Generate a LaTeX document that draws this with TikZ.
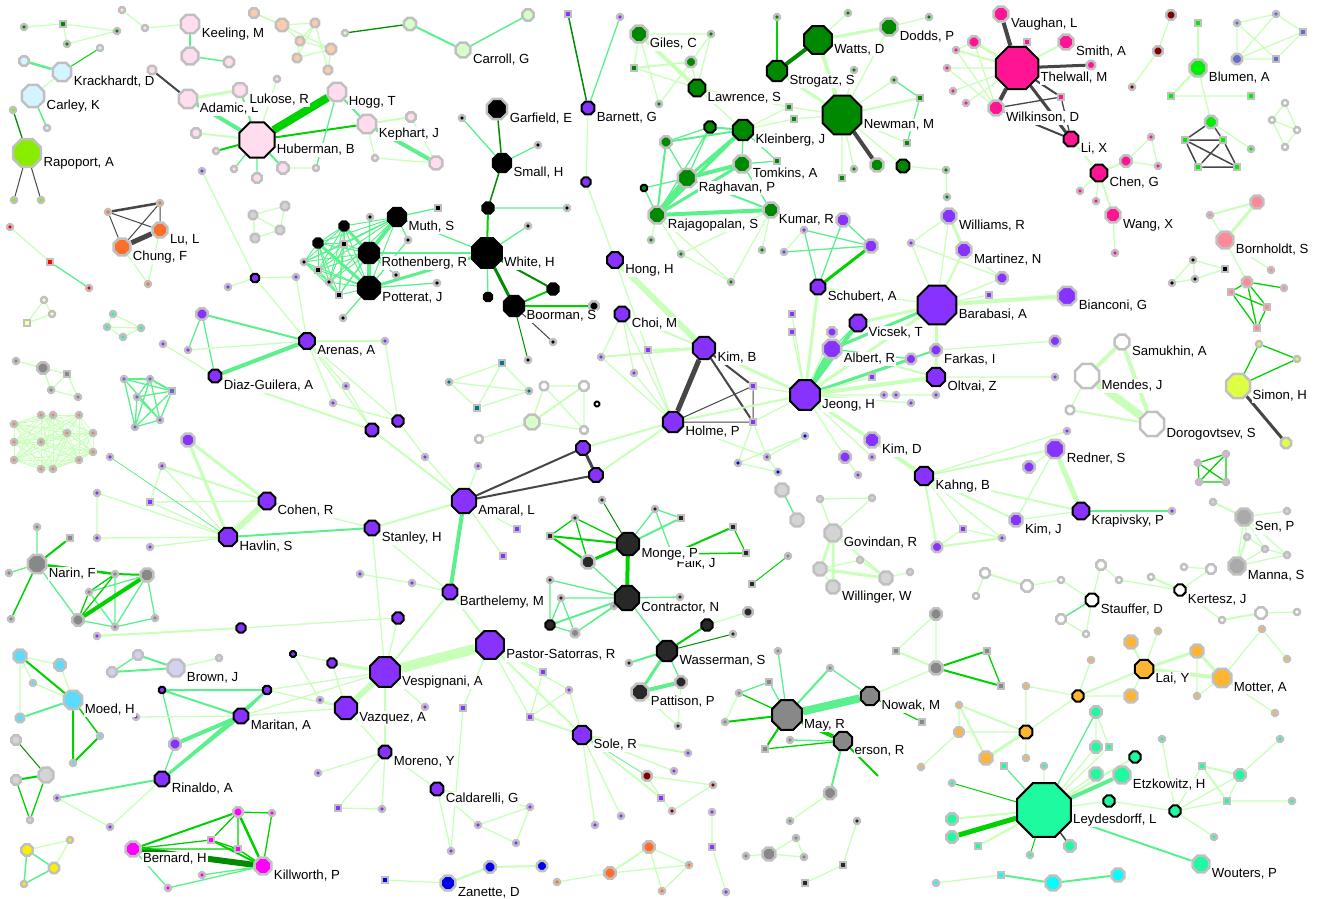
\documentclass[tikz,border=0pt]{standalone}
\usepackage{fontspec}
\setmainfont{Liberation Sans}
\usetikzlibrary{shapes.geometric,backgrounds}

\newdimen\pxu \pxu=0.02cm

\definecolor{pur}{RGB}{135,50,255}
\definecolor{grn}{RGB}{0,136,0}
\definecolor{vgrn}{RGB}{0,238,0}
\definecolor{dpink}{RGB}{255,20,147}
\definecolor{lpink}{RGB}{255,220,238}
\definecolor{ppink}{RGB}{240,160,230}
\definecolor{dgr}{RGB}{40,40,40}
\definecolor{mgry}{RGB}{136,136,136}
\definecolor{sgry}{RGB}{170,170,170}
\definecolor{lgry}{RGB}{212,212,212}
\definecolor{aqua}{RGB}{30,250,160}
\definecolor{orng}{RGB}{255,180,50}
\definecolor{ored}{RGB}{255,110,40}
\definecolor{lcyan}{RGB}{210,245,255}
\definecolor{cyan2}{RGB}{90,220,255}
\definecolor{sky}{RGB}{0,255,255}
\definecolor{lime}{RGB}{136,238,0}
\definecolor{mag}{RGB}{255,0,255}
\definecolor{ylg}{RGB}{221,255,68}
\definecolor{yel}{RGB}{255,238,0}
\definecolor{lyel}{RGB}{255,255,170}
\definecolor{salm}{RGB}{255,136,153}
\definecolor{blu}{RGB}{0,0,230}
\definecolor{dred}{RGB}{128,0,0}
\definecolor{lav}{RGB}{210,210,240}
\definecolor{peach}{RGB}{255,204,170}
\definecolor{pale}{RGB}{215,255,200}
\definecolor{teal2}{RGB}{0,120,140}
\definecolor{slate}{RGB}{100,110,200}
\definecolor{ecol}{RGB}{225,140,100}
\definecolor{ring}{RGB}{192,192,192}
\definecolor{lgr}{RGB}{200,255,185}
\definecolor{mgr}{RGB}{90,240,140}
\definecolor{bgr}{RGB}{0,210,0}
\definecolor{dkg}{RGB}{0,140,0}
\definecolor{egr}{RGB}{70,70,70}

\tikzset{
  oct/.style={regular polygon, regular polygon sides=8, inner sep=0pt},
  hub/.style 2 args={oct, draw=black, line width=2\pxu, fill=#1, minimum size=#2\pxu},
  nd/.style 2 args={oct, draw=ring, line width=2.5\pxu, fill=#1, minimum size=#2\pxu},
  dot/.style={oct, draw=ring, line width=2.5\pxu, fill=#1, minimum size=6\pxu},
  sqr/.style={rectangle, draw=ring, line width=2.5\pxu, fill=#1, minimum size=6\pxu, inner sep=0pt},
  lbl/.style={font=\fontsize{7.5}{8}\selectfont, inner sep=0.6pt, fill=white},
  lb/.style={lbl, yshift=-10\pxu},
  lite/.style={draw=lgr, line width=#1\pxu}, lite/.default=1.3,
  medg/.style={draw=mgr, line width=#1\pxu}, medg/.default=1.3,
  brtg/.style={draw=bgr, line width=#1\pxu}, brtg/.default=1.3,
  drkg/.style={draw=dkg, line width=#1\pxu}, drkg/.default=1.3,
  dgry/.style={draw=egr, line width=#1\pxu}, dgry/.default=1.3,
}

\begin{document}
\begin{tikzpicture}[x=0.02cm, y=-0.02cm]
\useasboundingbox (0,0) rectangle (1319,899);

%top left corner
\node[dot=grn] (tl1) at (24,27) {};
\node[sqr=grn] (tl2) at (63,24) {};
\node[dot=grn] (tl3) at (117,31) {};
\node[dot=grn] (tl4) at (67,44) {};
\begin{pgfonlayer}{background}
\draw[lite] (tl1) -- (tl2) (tl2) -- (tl3) (tl2) -- (tl4) (tl4) -- (tl3);
\end{pgfonlayer}

%keeling
\node[dot=lpink] (ke1) at (122,10) {};
\node[dot=lpink] (ke2) at (145,28) {};
\node[nd={lpink}{20}, label={[lb]0:{Keeling, M}}] (keeling) at (190,24) {};
\node[nd={lpink}{18}] (ke3) at (190,56) {};
\node[nd={lpink}{11}] (ke4) at (229,62) {};
\begin{pgfonlayer}{background}
\draw[lite] (ke1) -- (ke2) (ke2) -- (keeling);
\draw[medg=2] (keeling) -- (ke3);
\draw[medg=1.5] (ke3) -- (ke4);
\end{pgfonlayer}

%peach group
\node[nd={peach}{10}] (pe1) at (254,13) {};
\node[nd={peach}{13}] (pe2) at (282,25) {};
\node[nd={peach}{9}] (pe3) at (315,23) {};
\node[nd={peach}{9}] (pe4) at (300,41) {};
\node[nd={peach}{9}] (pe5) at (297,58) {};
\node[nd={peach}{11}] (pe6) at (331,49) {};
\node[nd={peach}{9}] (pe7) at (328,70) {};
\begin{pgfonlayer}{background}
\draw[lite=2] (pe1) -- (pe2);
\draw[lite] (pe2) -- (pe3) (pe2) -- (pe6) (pe3) -- (pe4) (pe3) -- (pe5) (pe3) -- (pe7)
  (pe4) -- (pe6) (pe5) -- (pe6) (pe6) -- (pe7) (pe4) -- (pe5) (pe2) -- (pe4);
\end{pgfonlayer}

%carroll
\node[dot=pale] (ca1) at (345,33) {};
\node[nd={pale}{13}] (ca2) at (410,24) {};
\node[nd={pale}{16}, label={[lb]0:{Carroll, G}}] (carroll) at (463,50) {};
\node[nd={pale}{12}] (ca3) at (528,15) {};
\begin{pgfonlayer}{background}
\draw[drkg] (ca1) -- (ca2);
\draw[medg=2] (ca2) -- (carroll);
\draw[medg=1.5] (carroll) -- (ca3);
\end{pgfonlayer}

%krackhardt, carley
\node[nd={lcyan}{10}] (kr1) at (24,61) {};
\node[nd={lcyan}{20}, label={[lb]0:{Krackhardt, D}}] (krack) at (62,72) {};
\node[dot=lcyan] (kr2) at (100,48) {};
\node[nd={lcyan}{24}, label={[lb]0:{Carley, K}}] (carley) at (33,96) {};
\node[dot=lcyan] (kr3) at (47,128) {};
\begin{pgfonlayer}{background}
\draw[medg=2.5] (kr1) -- (krack);
\draw[brtg=1] (krack) -- (kr2);
\draw[lite] (krack) -- (carley);
\draw[medg=1.5] (carley) -- (kr3);
\end{pgfonlayer}

%rapoport
\node[dot=lime] (ra1) at (13,110) {};
\node[nd={lime}{30}, label={[lb]0:{Rapoport, A}}] (rapoport) at (27,153) {};
\node[dot=lime] (ra2) at (14,200) {};
\node[dot=lime] (ra3) at (41,200) {};
\begin{pgfonlayer}{background}
\draw[drkg] (ra1) -- (rapoport);
\draw[dgry=1] (rapoport) -- (ra2) (rapoport) -- (ra3);
\end{pgfonlayer}

%huberman group
\node[nd={lpink}{9}] (hu0) at (152,70) {};
\node[nd={lpink}{20}, label={[lb]0:{Adamic, L}}] (adamic) at (188,99) {};
\node[nd={lpink}{15}, label={[lb]0:{Lukose, R}}] (lukose) at (240,90) {};
\node[dot=lpink] (hu1) at (277,79) {};
\node[nd={lpink}{20}, label={[lb]0:{Hogg, T}}] (hogg) at (337,92) {};
\node[nd={lpink}{20}, label={[lb]0:{Kephart, J}}] (kephart) at (367,124) {};
\node[nd={lpink}{10}] (hu2) at (411,117) {};
\node[nd={lpink}{14}] (hu3) at (436,163) {};
\node[dot=lpink] (hu4) at (375,158) {};
\node[dot=lpink] (hu5) at (316,168) {};
\node[nd={lpink}{12}] (hu6) at (283,168) {};
\node[nd={lpink}{10}] (hu7) at (257,178) {};
\node[dot=lpink] (hu8) at (234,169) {};
\node[dot=lpink] (hu9) at (216,151) {};
\node[nd={lpink}{10}] (hu10) at (196,133) {};
\node[hub={lpink}{38}, label={[lb]0:{Huberman, B}}] (huberman) at (257,140) {};
\begin{pgfonlayer}{background}
\draw[dgry=2] (hu0) -- (adamic);
\draw[lite=3] (adamic) -- (lukose);
\draw[medg=4] (adamic) -- (huberman);
\draw[medg=2] (lukose) -- (huberman) (hogg) -- (kephart) (huberman) -- (hu6);
\draw[lite] (hu1) -- (huberman) (kephart) -- (hu4) (hu2) -- (hu3) (hu4) -- (hu3) (hu6) -- (hu5);
\draw[brtg=8] (hogg) -- (huberman);
\draw[brtg=2] (kephart) -- (huberman) (huberman) -- (hu9);
\draw[medg] (hogg) -- (hu5) (huberman) -- (hu8) (huberman) -- (hu7);
\draw[lite=2] (kephart) -- (hu2) (huberman) -- (hu10);
\draw[medg=4] (kephart) -- (hu3);
\end{pgfonlayer}

%chung, lu
\node[dot=ored] (ch1) at (108,212) {};
\node[dot=ored] (ch2) at (160,203) {};
\node[nd={ored}{16}, label={[lb]0:{Lu, L}}] (lu) at (160,230) {};
\node[nd={ored}{18}, label={[lb]0:{Chung, F}}] (chung) at (122,247) {};
\node[dot=ored] (ch3) at (148,284) {};
\begin{pgfonlayer}{background}
\draw[dgry=2.5] (ch1) -- (ch2);
\draw[dgry=1] (ch1) -- (lu) (ch1) -- (chung) (ch2) -- (chung) (ch2) -- (lu);
\draw[dgry=5] (chung) -- (lu);
\draw[lite] (chung) -- (ch3) (lu) -- (ch3);
\end{pgfonlayer}

%red ones
\node[dot=red] (rd1) at (10,227) {};
\node[sqr=red] (rd2) at (50,262) {};
\node[dot=red] (rd3) at (89,288) {};
\begin{pgfonlayer}{background}
\draw[lite] (rd1) -- (rd2);
\draw[medg] (rd2) -- (rd3);
\end{pgfonlayer}

%small grey square
\node[nd={lgry}{9}] (lg1) at (253,215) {};
\node[nd={lgry}{9}] (lg2) at (285,206) {};
\node[nd={lgry}{9}] (lg3) at (280,230) {};
\node[nd={lgry}{9}] (lg4) at (255,238) {};
\begin{pgfonlayer}{background}
\draw[lite] (lg1) -- (lg2) (lg1) -- (lg3) (lg2) -- (lg3) (lg1) -- (lg4) (lg4) -- (lg3);
\end{pgfonlayer}

%purple strays
\node[dot=pur] (pu1) at (202,171) {};
\node[hub={pur}{9}] (pu2) at (255,278) {};
\node[dot=pur] (pu3) at (228,287) {};
\node[dot=pur] (pu4) at (296,277) {};
\begin{pgfonlayer}{background}
\draw[lite] (pu1) -- (pu2) (pu2) -- (pu3) (pu2) -- (pu4);
\end{pgfonlayer}

%white, small, garfield
\node[nd={black}{22}, label={[lb]0:{Garfield, E}}] (garfield) at (497,109) {};
\node[dot=black] (sm1) at (462,118) {};
\node[hub={black}{20}, label={[lb]0:{Small, H}}] (small) at (502,163) {};
\node[dot=black] (sm2) at (538,145) {};
\node[hub={black}{12}] (sm3) at (488,208) {};
\node[dot=black] (sm4) at (567,208) {};
\node[dot=black] (sm5) at (528,226) {};
\node[hub={black}{12}] (sm6) at (553,289) {};
\node[hub={black}{9}] (sm7) at (488,297) {};
\node[hub={black}{32}, label={[lb]0:{White, H}}] (whiteh) at (487,253) {};
\node[nd={black}{10}] (bo1) at (594,306) {};
\node[dot=black] (bo2) at (553,342) {};
\node[dot=black] (bo3) at (528,360) {};
\node[hub={black}{22}, label={[lb]0:{Boorman, S}}] (boorman) at (514,306) {};
\begin{pgfonlayer}{background}
\draw[drkg=1.5] (garfield) -- (small) (small) -- (sm3);
\draw[medg] (sm1) -- (small) (small) -- (sm2) (sm3) -- (sm4) (whiteh) -- (sm5) (whiteh) -- (sm7);
\draw[brtg=2] (sm3) -- (whiteh) (sm6) -- (boorman) (boorman) -- (bo1);
\draw[drkg=2] (whiteh) -- (sm6);
\draw[drkg=3] (whiteh) -- (boorman);
\draw[dgry=1] (boorman) -- (bo2);
\draw[drkg=1] (boorman) -- (bo3);
\end{pgfonlayer}

%muth, rothenberg, potterat
\node[hub={black}{10}] (mu1) at (344,226) {};
\node[hub={black}{10}] (mu2) at (318,243) {};
\node[sqr=black] (mu3) at (344,244) {};
\node[dot=black] (mu4) at (304,262) {};
\node[sqr=black] (mu5) at (318,270) {};
\node[dot=black] (mu6) at (329,282) {};
\node[sqr=black] (mu7) at (339,295) {};
\node[dot=black] (mu8) at (370,217) {};
\node[dot=black] (mu9) at (408,240) {};
\node[dot=black] (mu10) at (396,275) {};
\node[sqr=black] (mu11) at (438,208) {};
\node[dot=black] (mu12) at (437,283) {};
\node[dot=black] (mu13) at (343,318) {};
\node[hub={black}{20}, label={[lb]0:{Muth, S}}] (muth) at (397,217) {};
\node[hub={black}{22}, label={[lb]0:{Rothenberg, R}}] (roth) at (369,253) {};
\node[hub={black}{24}, label={[lb]0:{Potterat, J}}] (pott) at (369,288) {};
\begin{pgfonlayer}{background}
\foreach \a [count=\i] in {muth,roth,pott,mu1,mu2,mu3,mu4,mu5,mu6,mu7}
  \foreach \b [count=\j] in {muth,roth,pott,mu1,mu2,mu3,mu4,mu5,mu6,mu7}
    {\ifnum\j>\i \draw[medg=1] (\a) -- (\b); \fi}
\draw[medg=4] (muth) -- (roth) (roth) -- (pott);
\draw[medg=3] (mu2) -- (pott) (mu1) -- (roth);
\draw[medg] (whiteh) -- (muth) (mu8) -- (roth) (mu9) -- (pott) (mu10) -- (roth) (mu11) -- (muth)
  (mu12) -- (pott) (mu13) -- (pott) (muth) -- (mu9);
\draw[medg=2] (whiteh) -- (roth);
\draw[medg=3] (whiteh) -- (pott);
\end{pgfonlayer}

%barnett, hong
\node[sqr=pur] (ba1) at (568,14) {};
\node[dot=pur] (ba2) at (620,17) {};
\node[hub={pur}{14}, label={[lb]0:{Barnett, G}}] (barnett) at (588,108) {};
\node[hub={pur}{10}] (ba3) at (586,182) {};
\node[hub={pur}{17}, label={[lb]0:{Hong, H}}] (hong) at (615,260) {};
\begin{pgfonlayer}{background}
\draw[drkg=1.5] (ba1) -- (barnett);
\draw[medg] (ba2) -- (barnett);
\draw[lite] (barnett) -- (ba3) (ba3) -- (hong);
\end{pgfonlayer}

%giles, lawrence
\node[nd={grn}{18}, label={[lb]0:{Giles, C}}] (giles) at (639,34) {};
\node[dot=grn] (gi1) at (711,34) {};
\node[nd={grn}{11}] (gi2) at (691,62) {};
\node[sqr=grn] (gi3) at (634,68) {};
\node[dot=grn] (gi4) at (659,104) {};
\node[hub={grn}{18}, label={[lb]0:{Lawrence, S}}] (lawrence) at (697,88) {};
\begin{pgfonlayer}{background}
\draw[lite] (giles) -- (gi1) (giles) -- (gi3) (giles) -- (gi4) (gi3) -- (lawrence) (gi1) -- (lawrence)
  (gi2) -- (lawrence) (gi4) -- (gi2) (gi1) -- (gi2);
\draw[lite=2] (gi3) -- (gi2);
\draw[lite=4] (giles) -- (lawrence);
\end{pgfonlayer}

%kleinberg group
\node[hub={grn}{12}] (kl1) at (710,127) {};
\node[nd={grn}{12}] (kl2) at (666,142) {};
\node[sqr=grn] (kl3) at (777,161) {};
\node[hub={grn}{7}] (kl4) at (644,188) {};
\node[nd={grn}{16}] (kl5) at (771,210) {};
\node[dot=grn] (kl6) at (651,240) {};
\node[dot=grn] (kl7) at (681,254) {};
\node[dot=grn] (kl8) at (762,250) {};
\node[dot=grn] (kl9) at (731,282) {};
\node[hub={grn}{22}, label={[lb]0:{Kleinberg, J}}] (kleinberg) at (743,130) {};
\node[nd={grn}{18}, label={[lb]0:{Tomkins, A}}] (tomkins) at (742,164) {};
\node[nd={grn}{20}, label={[lb]0:{Raghavan, P}}] (raghavan) at (687,178) {};
\node[nd={grn}{18}, label={[lb]0:{Rajagopalan, S}}] (rajagopalan) at (657,215) {};
\begin{pgfonlayer}{background}
\draw[medg=2] (kl1) -- (kleinberg) (kl2) -- (kleinberg) (raghavan) -- (kl5) (kl2) -- (rajagopalan);
\draw[medg] (kl2) -- (kl1) (kleinberg) -- (tomkins) (kleinberg) -- (kl3) (kl2) -- (raghavan)
  (kl4) -- (raghavan) (kl4) -- (rajagopalan) (tomkins) -- (kl3) (kl5) -- (tomkins)
  (kl1) -- (raghavan) (kl1) -- (rajagopalan);
\draw[medg=3] (kleinberg) -- (raghavan) (kleinberg) -- (rajagopalan) (tomkins) -- (rajagopalan);
\draw[medg=4] (tomkins) -- (raghavan) (rajagopalan) -- (kl5);
\draw[medg=6] (raghavan) -- (rajagopalan);
\draw[lite] (rajagopalan) -- (kl6) (rajagopalan) -- (kl7) (rajagopalan) -- (kl9) (kl5) -- (kl9)
  (kl5) -- (kl8) (kl7) -- (kl5) (kl7) -- (kl9) (lawrence) -- (kleinberg);
\end{pgfonlayer}

%newman group
\node[dot=grn] (nw1) at (777,17) {};
\node[dot=grn] (nw2) at (929,17) {};
\node[dot=grn] (nw3) at (848,13) {};
\node[dot=grn] (nw4) at (854,70) {};
\node[sqr=grn] (nw5) at (789,107) {};
\node[sqr=grn] (nw6) at (794,119) {};
\node[nd={grn}{14}] (nw7) at (877,165) {};
\node[hub={grn}{14}] (nw8) at (903,166) {};
\node[dot=grn] (nw9) at (894,80) {};
\node[sqr=grn] (nw10) at (920,98) {};
\node[sqr=grn] (nw11) at (907,143) {};
\node[dot=grn] (nw12) at (946,170) {};
\node[dot=grn] (nw13) at (947,197) {};
\node[sqr=grn] (nw14) at (842,178) {};
\node[dot=grn] (nw15) at (854,169) {};
\node[hub={grn}{30}, label={[lb]0:{Watts, D}}] (watts) at (818,40) {};
\node[hub={grn}{22}, label={[lb]0:{Strogatz, S}}] (strogatz) at (777,71) {};
\node[nd={grn}{18}, label={[lb]0:{Dodds, P}}] (dodds) at (889,27) {};
\node[hub={grn}{42}, label={[lb]0:{Newman, M}}] (newman) at (842,115) {};
\begin{pgfonlayer}{background}
\draw[drkg=4] (watts) -- (strogatz);
\draw[brtg=2.5] (strogatz) -- (nw1);
\draw[lite=4] (watts) -- (newman);
\draw[lite=3] (watts) -- (dodds) (strogatz) -- (newman);
\draw[dgry=4] (newman) -- (nw7);
\draw[lite] (newman) -- (dodds) (newman) -- (nw4) (newman) -- (nw11) (newman) -- (nw5) (newman) -- (nw6)
  (newman) -- (nw8) (newman) -- (nw14) (newman) -- (nw15) (nw8) -- (nw12) (nw12) -- (nw13)
  (dodds) -- (nw2) (watts) -- (nw3) (newman) -- (nw9) (kleinberg) -- (nw5) (kleinberg) -- (nw6)
  (lawrence) -- (nw5);
\draw[lite=2] (newman) -- (nw10);
\draw[medg] (nw9) -- (nw10) (nw10) -- (nw11);
\end{pgfonlayer}

%thelwall group
\node[sqr=dpink] (th1) at (1027,42) {};
\node[dot=dpink] (th2) at (956,50) {};
\node[dot=dpink] (th3) at (947,68) {};
\node[dot=dpink] (th4) at (953,91) {};
\node[dot=dpink] (th5) at (966,103) {};
\node[nd={dpink}{12}] (th6) at (974,42) {};
\node[nd={dpink}{9}] (th7) at (1091,65) {};
\node[sqr=dpink] (th8) at (1061,97) {};
\node[nd={dpink}{12}] (th9) at (1126,161) {};
\node[dot=dpink] (th10) at (1151,137) {};
\node[dot=dpink] (th11) at (1158,166) {};
\node[dot=dpink] (th12) at (1080,191) {};
\node[dot=dpink] (th13) at (1096,201) {};
\node[dot=dpink] (th14) at (1115,253) {};
\node[nd={dpink}{16}, label={[lb]0:{Vaughan, L}}] (vaughan) at (1001,14) {};
\node[nd={dpink}{16}, label={[lb]0:{Smith, A}}] (smith) at (1066,42) {};
\node[hub={dpink}{46}, label={[lb]0:{Thelwall, M}}] (thelwall) at (1017,68) {};
\node[nd={dpink}{16}, label={[lb]0:{Wilkinson, D}}] (wilkinson) at (996,108) {};
\node[hub={dpink}{16}, label={[lb]0:{Li, X}}] (lix) at (1071,139) {};
\node[hub={dpink}{18}, label={[lb]0:{Chen, G}}] (chen) at (1099,173) {};
\node[nd={dpink}{16}, label={[lb]0:{Wang, X}}] (wang) at (1113,215) {};
\begin{pgfonlayer}{background}
\draw[dgry=4] (vaughan) -- (thelwall) (thelwall) -- (wilkinson);
\draw[dgry=3] (thelwall) -- (th7) (thelwall) -- (lix);
\draw[dgry=2] (thelwall) -- (th8) (wilkinson) -- (lix);
\draw[dgry=1.3] (wilkinson) -- (th8) (th8) -- (lix);
\draw[lite=2] (smith) -- (thelwall) (th2) -- (thelwall) (thelwall) -- (th1) (lix) -- (chen)
  (chen) -- (th9) (chen) -- (wang);
\draw[lite=3] (th6) -- (thelwall);
\draw[lite] (th3) -- (thelwall) (th4) -- (thelwall) (th5) -- (thelwall) (th6) -- (wilkinson)
  (th3) -- (wilkinson) (th2) -- (wilkinson) (th6) -- (th2) (th9) -- (th10) (th10) -- (th11)
  (th9) -- (th11) (chen) -- (th12) (chen) -- (th13) (wang) -- (th14);
\end{pgfonlayer}

%dark red
\node[nd={dred}{10}] (dr1) at (1171,15) {};
\node[nd={dred}{10}] (dr2) at (1158,51) {};
\node[dot=dred] (dr3) at (1132,87) {};
\begin{pgfonlayer}{background}
\draw[lite] (dr1) -- (dr2) (dr2) -- (dr3);
\end{pgfonlayer}

%blumen
\node[sqr=vgrn] (bl1) at (1198,23) {};
\node[sqr=vgrn] (bl2) at (1171,96) {};
\node[sqr=vgrn] (bl3) at (1251,96) {};
\node[nd={vgrn}{13}] (bl4) at (1211,122) {};
\node[dot=vgrn] (bl5) at (1251,149) {};
\node[sqr=vgrn] (bl6) at (1185,140) {};
\node[sqr=vgrn] (bl7) at (1223,140) {};
\node[sqr=vgrn] (bl8) at (1198,167) {};
\node[sqr=vgrn] (bl9) at (1237,167) {};
\node[nd={vgrn}{18}, label={[lb]0:{Blumen, A}}] (blumen) at (1198,68) {};
\begin{pgfonlayer}{background}
\draw[lite=2] (bl1) -- (blumen) (blumen) -- (bl2);
\draw[lite] (bl2) -- (bl3) (blumen) -- (bl4) (bl4) -- (bl5);
\draw[dgry=1.5] (bl4) -- (bl6) (bl4) -- (bl7) (bl6) -- (bl7) (bl6) -- (bl8) (bl6) -- (bl9)
  (bl7) -- (bl8) (bl7) -- (bl9) (bl8) -- (bl9);
\end{pgfonlayer}

%slate group, white tiny group
\node[dot=slate] (sl1) at (1237,23) {};
\node[dot=slate] (sl2) at (1276,14) {};
\node[sqr=slate] (sl3) at (1303,32) {};
\node[nd={slate}{11}] (sl4) at (1237,59) {};
\node[sqr=slate] (sl5) at (1276,59) {};
\node[dot=white] (wt1) at (1285,103) {};
\node[dot=white] (wt2) at (1272,120) {};
\node[dot=white] (wt3) at (1297,130) {};
\node[dot=white] (wt4) at (1285,147) {};
\begin{pgfonlayer}{background}
\draw[lite] (sl1) -- (sl2) (sl2) -- (sl3) (sl1) -- (sl4) (sl4) -- (sl5) (sl5) -- (sl3) (sl1) -- (sl5)
  (sl2) -- (sl4) (sl4) -- (sl3);
\draw[lite] (wt1) -- (wt2) (wt1) -- (wt3) (wt2) -- (wt4) (wt3) -- (wt4) (wt2) -- (wt3);
\end{pgfonlayer}

%bornholdt
\node[nd={salm}{14}] (bh1) at (1257,202) {};
\node[dot=salm] (bh2) at (1210,215) {};
\node[dot=salm] (bh3) at (1271,270) {};
\node[dot=black] (bh4) at (1193,260) {};
\node[sqr=black] (bh5) at (1225,269) {};
\node[dot=black] (bh6) at (1172,283) {};
\node[dot=black] (bh7) at (1195,279) {};
\node[nd={salm}{11}] (bh8) at (1247,282) {};
\node[dot=salm] (bh9) at (1284,288) {};
\node[sqr=salm] (bh10) at (1231,292) {};
\node[sqr=salm] (bh11) at (1267,307) {};
\node[sqr=salm] (bh12) at (1257,328) {};
\node[nd={salm}{18}, label={[lb]0:{Bornholdt, S}}] (bornholdt) at (1225,240) {};
\begin{pgfonlayer}{background}
\draw[lite=3] (bh1) -- (bornholdt);
\draw[lite=2] (bh2) -- (bh1);
\draw[lite] (bh2) -- (bornholdt) (bornholdt) -- (bh8) (bornholdt) -- (bh3) (bh4) -- (bh5)
  (bh4) -- (bh6) (bh4) -- (bh7) (bh6) -- (bh7) (bh5) -- (bh7);
\draw[brtg] (bh8) -- (bh9) (bh8) -- (bh10) (bh8) -- (bh11) (bh10) -- (bh11) (bh10) -- (bh12)
  (bh11) -- (bh12) (bh8) -- (bh12);
\end{pgfonlayer}

%williams, martinez, barabasi
\node[dot=pur] (wi1) at (911,243) {};
\node[nd={pur}{12}] (wi2) at (1002,278) {};
\node[sqr=pur] (wi3) at (989,295) {};
\node[nd={pur}{16}, label={[lb]0:{Williams, R}}] (williams) at (949,216) {};
\node[nd={pur}{16}, label={[lb]0:{Martinez, N}}] (martinez) at (964,250) {};
\node[nd={pur}{20}, label={[lb]0:{Bianconi, G}}] (bianconi) at (1067,296) {};
\node[hub={pur}{42}, label={[lb]0:{Barabasi, A}}] (barabasi) at (937,305) {};
\begin{pgfonlayer}{background}
\draw[lite] (williams) -- (wi1) (williams) -- (barabasi) (wi1) -- (wi2) (wi1) -- (barabasi)
  (martinez) -- (wi2) (barabasi) -- (wi3) (wi2) -- (barabasi);
\draw[lite=3] (williams) -- (martinez);
\draw[lite=2] (martinez) -- (barabasi);
\draw[lite=4] (barabasi) -- (bianconi);
\end{pgfonlayer}

%kumar, schubert
\node[nd={pur}{14}, label={[lbl]180:{Kumar, R}}] (kumar) at (843,220) {};
\node[nd={pur}{14}] (ku1) at (871,246) {};
\node[dot=pur] (ku2) at (804,230) {};
\node[dot=pur] (ku3) at (784,252) {};
\node[hub={pur}{16}, label={[lb]0:{Schubert, A}}] (schubert) at (818,287) {};
\begin{pgfonlayer}{background}
\draw[brtg=3] (ku1) -- (schubert);
\draw[medg] (ku2) -- (ku1) (ku3) -- (ku1) (ku2) -- (schubert) (kumar) -- (schubert) (kumar) -- (ku1);
\draw[lite] (ku2) -- (ku3);
\end{pgfonlayer}

%jeong group
\node[sqr=pur] (je2) at (792,314) {};
\node[sqr=pur] (je3) at (792,332) {};
\node[nd={pur}{10}] (je4) at (832,332) {};
\node[sqr=pur] (je5) at (872,377) {};
\node[dot=pur] (je6) at (884,395) {};
\node[dot=pur] (je7) at (896,395) {};
\node[dot=pur] (je8) at (911,403) {};
\node[dot=pur] (je9) at (936,395) {};
\node[nd={pur}{11}] (je10) at (1055,341) {};
\node[dot=pur] (je11) at (1055,377) {};
\node[nd={pur}{11}] (je1) at (911,359) {};
\node[hub={pur}{18}, label={[lb]0:{Vicsek, T}}] (vicsek) at (858,323) {};
\node[nd={pur}{20}, label={[lb]0:{Albert, R}}] (albert) at (832,349) {};
\node[nd={pur}{12}, label={[lb]0:{Farkas, I}}] (farkas) at (936,350) {};
\node[hub={pur}{20}, label={[lb]0:{Oltvai, Z}}] (oltvai) at (936,377) {};
\node[hub={pur}{32}, label={[lb]0:{Jeong, H}}] (jeong) at (805,395) {};
\begin{pgfonlayer}{background}
\draw[lite=3] (jeong) -- (barabasi) (barabasi) -- (vicsek) (barabasi) -- (oltvai) (jeong) -- (schubert);
\draw[medg=6] (jeong) -- (albert);
\draw[medg=4] (jeong) -- (vicsek);
\draw[lite=4] (jeong) -- (oltvai);
\draw[medg=3] (jeong) -- (je1) (barabasi) -- (albert);
\draw[medg=2] (jeong) -- (farkas);
\draw[medg] (vicsek) -- (albert) (albert) -- (je1);
\draw[lite=2] (albert) -- (oltvai);
\draw[lite] (barabasi) -- (farkas) (jeong) -- (je2) (jeong) -- (je3) (jeong) -- (je4) (jeong) -- (je5)
  (jeong) -- (je6) (jeong) -- (je7) (jeong) -- (je8) (jeong) -- (je9) (farkas) -- (je10)
  (oltvai) -- (je11) (schubert) -- (barabasi);
\end{pgfonlayer}

%kim b, holme, choi
\node[sqr=pur] (kh1) at (753,386) {};
\node[sqr=pur] (kh2) at (753,422) {};
\node[dot=pur] (kh3) at (601,357) {};
\node[sqr=pur] (kh4) at (648,350) {};
\node[dot=pur] (kh5) at (634,373) {};
\node[dot=blu] (hb2) at (738,463) {};
\node[dot=pur] (hb3) at (767,457) {};
\node[dot=blu] (hb4) at (778,472) {};
\node[dot=blu] (hb5) at (805,436) {};
\node[hub={pur}{16}, label={[lb]0:{Choi, M}}] (choi) at (622,314) {};
\node[hub={pur}{24}, label={[lb]0:{Kim, B}}] (kimb) at (704,348) {};
\node[hub={pur}{22}, label={[lb]0:{Holme, P}}] (holme) at (673,422) {};
\node[hub={pur}{15}] (am1) at (583,448) {};
\node[hub={pur}{15}] (am2) at (596,475) {};
\begin{pgfonlayer}{background}
\draw[dgry=5] (kimb) -- (holme);
\draw[dgry=2] (kimb) -- (kh1) (kimb) -- (kh2);
\draw[dgry=1] (holme) -- (kh1) (holme) -- (kh2) (kh1) -- (kh2);
\draw[lite=2] (am1) -- (holme) (am2) -- (holme) (choi) -- (kimb) (kh3) -- (kimb) (kh4) -- (kimb)
  (holme) -- (jeong);
\draw[lite=6] (hong) -- (kimb);
\draw[lite=3] (kimb) -- (jeong);
\draw[lite] (choi) -- (kh3) (choi) -- (holme) (choi) -- (kh5) (kh5) -- (holme) (hong) -- (holme)
  (jeong) -- (kh1) (jeong) -- (kh2) (kh2) -- (hb2) (kh2) -- (hb3) (hb3) -- (hb4) (hb2) -- (hb4)
  (hb3) -- (hb5) (hb2) -- (hb5) (holme) -- (hb3) (kh3) -- (holme);
\end{pgfonlayer}

%teal and pale groups in the middle
\node[dot=teal2] (tc1) at (449,382) {};
\node[sqr=teal2] (tc2) at (502,363) {};
\node[dot=teal2] (tc3) at (529,391) {};
\node[sqr=teal2] (tc4) at (477,408) {};
\node[nd={pale}{16}] (lc1) at (532,422) {};
\node[nd={white}{9}] (lc2) at (544,386) {};
\node[nd={white}{10}] (lc3) at (584,386) {};
\node[nd={white}{8}] (lc4) at (584,430) {};
\node[nd={white}{8}] (lc5) at (479,439) {};
\node[hub={white}{5}] (lc6) at (597,404) {};
\begin{pgfonlayer}{background}
\draw[lite] (tc1) -- (tc2) (tc2) -- (tc3) (tc1) -- (tc4) (tc2) -- (tc4) (tc4) -- (tc3) (tc1) -- (tc3);
\draw[lite] (lc1) -- (lc2) (lc1) -- (lc4) (lc1) -- (lc5) (lc2) -- (lc3) (lc3) -- (lc4) (lc2) -- (lc4);
\draw[lite=2] (lc1) -- (lc3);
\end{pgfonlayer}

%amaral, stanley, barthelemy
\node[sqr=pur] (am3) at (517,529) {};
\node[sqr=pur] (am4) at (503,556) {};
\node[dot=pur] (am5) at (478,466) {};
\node[hub={pur}{26}, label={[lb]0:{Amaral, L}}] (amaral) at (464,501) {};
\node[hub={pur}{16}, label={[lb]0:{Stanley, H}}] (stanley) at (372,528) {};
\node[hub={pur}{16}, label={[lb]0:{Barthelemy, M}}] (barthelemy) at (450,592) {};
\node[dot=pur] (st1) at (360,574) {};
\node[dot=pur] (st2) at (412,583) {};
\begin{pgfonlayer}{background}
\draw[dgry=2] (amaral) -- (am1) (amaral) -- (am2);
\draw[dgry=3] (am1) -- (am2);
\draw[medg=4] (amaral) -- (barthelemy);
\draw[lite=2] (amaral) -- (stanley);
\draw[lite] (amaral) -- (am3) (amaral) -- (am4) (amaral) -- (am5) (st1) -- (st2) (stanley) -- (barthelemy)
  (st2) -- (barthelemy);
\end{pgfonlayer}

%arenas, diaz-guilera
\node[nd={pur}{12}] (ar1) at (202,314) {};
\node[dot=pur] (ar2) at (163,344) {};
\node[dot=pur] (ar3) at (188,350) {};
\node[dot=pur] (ar4) at (385,341) {};
\node[dot=pur] (ar5) at (346,386) {};
\node[dot=pur] (ar6) at (333,403) {};
\node[hub={pur}{12}] (ar7) at (398,421) {};
\node[hub={pur}{14}] (ar8) at (372,430) {};
\node[dot=pur] (ar9) at (425,457) {};
\node[hub={pur}{14}, label={[lb]0:{Diaz-Guilera, A}}] (diaz) at (215,376) {};
\node[hub={pur}{17}, label={[lb]0:{Arenas, A}}] (arenas) at (307,341) {};
\begin{pgfonlayer}{background}
\draw[medg=2] (ar1) -- (arenas);
\draw[medg] (ar1) -- (ar3) (ar1) -- (diaz);
\draw[medg=4] (diaz) -- (arenas);
\draw[lite=2] (arenas) -- (ar4) (diaz) -- (ar8) (ar8) -- (amaral);
\draw[lite] (ar3) -- (arenas) (ar2) -- (diaz) (ar4) -- (ar7) (arenas) -- (ar7) (arenas) -- (ar8)
  (ar7) -- (ar9) (arenas) -- (pu2) (arenas) -- (pu4) (arenas) -- (ar6) (ar6) -- (ar7) (ar5) -- (ar8)
  (arenas) -- (ar5) (ar9) -- (amaral);
\end{pgfonlayer}

%havlin, cohen
\node[nd={pur}{14}] (hv1) at (188,440) {};
\node[dot=pur] (hv2) at (162,466) {};
\node[sqr=pur] (hv3) at (150,502) {};
\node[dot=pur] (hv4) at (97,493) {};
\node[dot=pur] (hv5) at (97,538) {};
\node[dot=pur] (hv6) at (110,457) {};
\node[dot=pur] (hv7) at (150,547) {};
\node[hub={pur}{18}, label={[lb]0:{Cohen, R}}] (cohen) at (267,501) {};
\node[hub={pur}{20}, label={[lb]0:{Havlin, S}}] (havlin) at (228,537) {};
\begin{pgfonlayer}{background}
\draw[lite=3] (hv1) -- (havlin) (hv1) -- (cohen);
\draw[lite=2] (hv2) -- (cohen);
\draw[lite] (hv2) -- (havlin) (hv2) -- (hv3) (hv3) -- (cohen) (hv3) -- (havlin) (hv4) -- (havlin)
  (hv4) -- (hv5) (hv5) -- (havlin) (hv7) -- (havlin) (cohen) -- (stanley);
\draw[medg=0.8] (hv6) -- (havlin);
\draw[lite=6] (cohen) -- (havlin);
\draw[medg=2] (havlin) -- (stanley);
\end{pgfonlayer}

%little groups on the left
\node[sqr=lyel] (yl1) at (27,323) {};
\node[dot=lyel] (yl2) at (52,314) {};
\node[dot=lyel] (yl3) at (44,300) {};
\node[dot=aqua] (tt1) at (113,314) {};
\node[dot=aqua] (tt2) at (107,327) {};
\node[dot=aqua] (tt3) at (123,337) {};
\node[dot=aqua] (tt4) at (141,328) {};
\node[dot=mgry] (gy1) at (16,361) {};
\node[nd={mgry}{12}] (gy2) at (43,368) {};
\node[sqr=mgry] (gy3) at (67,374) {};
\node[dot=mgry] (gy4) at (51,390) {};
\node[dot=mgry] (gy5) at (78,397) {};
\node[dot=slate] (sc1) at (124,379) {};
\node[dot=slate] (sc2) at (150,379) {};
\node[sqr=slate] (sc3) at (172,391) {};
\node[dot=slate] (sc4) at (137,397) {};
\node[dot=slate] (sc5) at (160,420) {};
\node[dot=slate] (sc6) at (135,427) {};
\foreach \x/\y [count=\i] in {14/424,41/415,53/415,79/415,93/433,93/452,79/460,53/469,41/469,14/460,14/442,41/442,67/433}
  \node[dot=ecol] (el\i) at (\x,\y) {};
\begin{pgfonlayer}{background}
\draw[lite] (yl1) -- (yl2) (yl1) -- (yl3) (yl2) -- (yl3);
\draw[lite] (tt1) -- (tt2) (tt1) -- (tt4) (tt2) -- (tt4) (tt2) -- (tt3) (tt3) -- (tt4);
\draw[lite] (gy1) -- (gy2) (gy2) -- (gy3) (gy3) -- (gy4) (gy3) -- (gy5) (gy2) -- (gy4) (gy4) -- (gy5);
\draw[medg=2] (sc1) -- (sc2) (sc2) -- (sc3);
\draw[medg] (sc1) -- (sc3) (sc1) -- (sc5) (sc1) -- (sc6) (sc2) -- (sc4) (sc2) -- (sc5) (sc3) -- (sc4)
  (sc3) -- (sc5) (sc3) -- (sc6) (sc4) -- (sc5) (sc4) -- (sc6) (sc5) -- (sc6) (sc2) -- (sc6);
\foreach \i in {1,...,13}
  \foreach \j in {1,...,13}
    {\ifnum\j>\i \draw[lite=0.8] (el\i) -- (el\j); \fi}
\end{pgfonlayer}

%narin
\node[dot=mgry] (na1) at (37,527) {};
\node[sqr=mgry] (na2) at (70,538) {};
\node[dot=mgry] (na3) at (9,573) {};
\node[dot=mgry] (na4) at (115,574) {};
\node[nd={mgry}{14}] (na5) at (147,575) {};
\node[dot=mgry] (na6) at (89,592) {};
\node[nd={mgry}{12}] (na7) at (78,620) {};
\node[dot=mgry] (na8) at (115,627) {};
\node[dot=mgry] (na9) at (155,618) {};
\node[dot=mgry] (na10) at (11,619) {};
\node[dot=pur] (na11) at (97,636) {};
\node[hub={pur}{10}] (pa1) at (241,628) {};
\node[hub={pur}{12}] (pa2) at (398,618) {};
\node[nd={mgry}{20}, label={[lb]0:{Narin, F}}] (narin) at (37,564) {};
\begin{pgfonlayer}{background}
\draw[brtg=2] (na2) -- (narin) (na4) -- (na5);
\draw[medg] (na1) -- (narin) (narin) -- (na3) (narin) -- (na7) (na5) -- (na9) (na5) -- (na8) (na6) -- (na8)
  (na4) -- (na8) (na7) -- (na8) (na9) -- (na8) (na6) -- (na5);
\draw[brtg=2.5] (narin) -- (na4);
\draw[brtg=4] (na5) -- (na7);
\draw[brtg] (na4) -- (na6) (na6) -- (na7) (na4) -- (na7);
\draw[brtg=1.5] (narin) -- (na10);
\draw[lite=2] (na11) -- (pa1);
\draw[lite] (pa1) -- (pa2);
\end{pgfonlayer}

%moed
\node[nd={cyan2}{14}] (mo1) at (20,656) {};
\node[nd={cyan2}{12}] (mo2) at (60,665) {};
\node[dot=cyan2] (mo3) at (33,683) {};
\node[nd={cyan2}{9}] (mo4) at (20,718) {};
\node[dot=cyan2] (mo5) at (100,736) {};
\node[dot=cyan2] (mo6) at (73,763) {};
\node[dot=pur] (mo7) at (136,717) {};
\node[nd={cyan2}{20}, label={[lb]0:{Moed, H}}] (moed) at (73,700) {};
\begin{pgfonlayer}{background}
\draw[brtg=2] (mo1) -- (moed) (moed) -- (mo6) (mo6) -- (mo5);
\draw[lite] (mo1) -- (mo2) (mo1) -- (mo4) (moed) -- (mo2) (mo3) -- (moed) (mo3) -- (mo1);
\draw[medg=2] (moed) -- (mo4);
\draw[brtg=1.5] (moed) -- (mo5);
\end{pgfonlayer}

%grey and yellow corners
\node[nd={lgry}{10}] (gc1) at (16,740) {};
\node[nd={lgry}{10}] (gc2) at (16,780) {};
\node[nd={lgry}{16}] (gc3) at (46,775) {};
\node[dot=lgry] (gc4) at (30,820) {};
\node[nd={yel}{12}] (ye1) at (27,850) {};
\node[nd={yel}{11}] (ye2) at (54,868) {};
\node[dot=yel] (ye3) at (70,840) {};
\node[dot=yel] (ye4) at (24,884) {};
\begin{pgfonlayer}{background}
\draw[drkg=1] (gc1) -- (gc3);
\draw[brtg=2] (gc2) -- (gc3);
\draw[brtg] (gc2) -- (gc4) (gc3) -- (gc4);
\draw[medg=1.5] (ye1) -- (ye2) (ye1) -- (ye4) (ye2) -- (ye4);
\draw[lite] (ye1) -- (ye3) (ye2) -- (ye3);
\end{pgfonlayer}

%brown
\node[nd={lav}{10}] (br1) at (138,655) {};
\node[nd={lav}{10}] (br2) at (112,672) {};
\node[nd={lav}{18}, label={[lb]0:{Brown, J}}] (brown) at (176,668) {};
\node[dot=lav] (br3) at (219,658) {};
\begin{pgfonlayer}{background}
\draw[medg=2] (br1) -- (brown) (br2) -- (brown);
\draw[medg] (br1) -- (br2);
\draw[lite] (brown) -- (br3);
\end{pgfonlayer}

%vespignani group
\node[hub={pur}{6}] (vp1) at (293,654) {};
\node[hub={pur}{10}] (vp2) at (332,663) {};
\node[dot=pur] (vp3) at (320,700) {};
\node[dot=pur] (vp4) at (425,707) {};
\node[dot=pur] (vp5) at (318,773) {};
\node[sqr=pur] (vp6) at (338,808) {};
\node[dot=pur] (vp7) at (382,809) {};
\node[sqr=blu] (vp8) at (385,880) {};
\node[hub={pur}{32}, label={[lb]0:{Vespignani, A}}] (vespignani) at (385,672) {};
\node[hub={pur}{24}, label={[lb]0:{Vazquez, A}}] (vazquez) at (346,708) {};
\node[hub={pur}{14}, label={[lb]0:{Moreno, Y}}] (moreno) at (385,752) {};
\node[hub={pur}{30}, label={[lb]0:{Pastor-Satorras, R}}] (pastor) at (490,645) {};
\begin{pgfonlayer}{background}
\draw[lite=10] (vespignani) -- (pastor);
\draw[lite=6] (vespignani) -- (vazquez);
\draw[lite=3] (vespignani) -- (vp2);
\draw[lite=2] (vespignani) -- (barthelemy) (vespignani) -- (moreno) (pastor) -- (barthelemy);
\draw[lite] (vespignani) -- (pa2) (vp1) -- (vespignani) (vazquez) -- (moreno) (moreno) -- (vp5)
  (moreno) -- (vp6) (vp6) -- (vp7) (moreno) -- (vp7) (vespignani) -- (vp4) (vazquez) -- (vp3)
  (vp1) -- (vp3) (stanley) -- (vespignani) (vazquez) -- (vp2);
\end{pgfonlayer}

%maritan, rinaldo
\node[hub={pur}{7}] (mt1) at (162,690) {};
\node[hub={pur}{9}] (mt2) at (267,690) {};
\node[nd={pur}{12}] (mt3) at (175,744) {};
\node[dot=pur] (mt4) at (57,798) {};
\node[dot=pur] (mt5) at (110,827) {};
\node[hub={pur}{16}, label={[lb]0:{Maritan, A}}] (maritan) at (241,716) {};
\node[hub={pur}{16}, label={[lb]0:{Rinaldo, A}}] (rinaldo) at (162,779) {};
\begin{pgfonlayer}{background}
\draw[medg=2] (mt1) -- (mt2) (mt1) -- (maritan) (mt2) -- (rinaldo) (mt2) -- (maritan) (rinaldo) -- (mt4);
\draw[medg] (mt1) -- (mt3) (mt3) -- (rinaldo);
\draw[medg=4] (maritan) -- (mt3);
\draw[medg=3] (maritan) -- (rinaldo);
\draw[lite] (rinaldo) -- (mt5) (mt4) -- (mt5) (maritan) -- (vespignani) (mt2) -- (vespignani)
  (mt2) -- (vazquez) (maritan) -- (vazquez) (mo7) -- (maritan);
\end{pgfonlayer}

%bernard, killworth
\node[nd={mag}{10}] (bn1) at (238,812) {};
\node[dot=mag] (bn2) at (272,813) {};
\node[sqr=mag] (bn3) at (211,840) {};
\node[sqr=mag] (bn4) at (238,849) {};
\node[dot=mag] (bn5) at (202,875) {};
\node[dot=mag] (bn6) at (168,888) {};
\node[nd={mag}{16}, label={[lb]0:{Bernard, H}}] (bernard) at (133,849) {};
\node[nd={mag}{18}, label={[lb]0:{Killworth, P}}] (killworth) at (263,866) {};
\begin{pgfonlayer}{background}
\draw[drkg=6] (bernard) -- (killworth);
\draw[brtg=2] (bernard) -- (bn1) (bn3) -- (killworth);
\draw[brtg] (bernard) -- (bn3) (bernard) -- (bn4) (bn1) -- (bn4) (bn2) -- (bn1) (bn2) -- (killworth)
  (bn3) -- (bn4) (bn3) -- (bn1);
\draw[brtg=2.5] (bn1) -- (killworth);
\draw[brtg=1.5] (bn4) -- (killworth);
\draw[medg] (bn5) -- (killworth) (bn6) -- (killworth) (bernard) -- (bn6);
\end{pgfonlayer}

%caldarelli, zanette
\node[dot=pur] (cd1) at (530,807) {};
\node[dot=pur] (cd2) at (478,825) {};
\node[dot=pur] (cd3) at (516,843) {};
\node[dot=pur] (cd4) at (451,851) {};
\node[hub={pur}{14}, label={[lb]0:{Caldarelli, G}}] (caldarelli) at (437,789) {};
\node[nd={blu}{12}] (za1) at (490,867) {};
\node[nd={blu}{11}] (za2) at (542,866) {};
\node[nd={blu}{16}, label={[lb]0:{Zanette, D}}] (zanette) at (448,883) {};
\begin{pgfonlayer}{background}
\draw[lite] (moreno) -- (caldarelli) (caldarelli) -- (cd1) (caldarelli) -- (cd2) (cd2) -- (cd1)
  (cd2) -- (cd3) (cd1) -- (cd3) (caldarelli) -- (cd4) (vp8) -- (zanette);
\draw[lite=2.5] (zanette) -- (za1);
\draw[lite=2] (za1) -- (za2);
\end{pgfonlayer}

%pastor-satorras, sole
\node[sqr=pur] (ps1) at (543,672) {};
\node[dot=pur] (ps2) at (569,690) {};
\node[sqr=pur] (ps3) at (530,717) {};
\node[sqr=pur] (ps4) at (463,708) {};
\node[dot=pur] (so1) at (688,753) {};
\node[dot=pur] (so2) at (674,771) {};
\node[nd={dred}{10}] (so3) at (647,776) {};
\node[sqr=pur] (so4) at (661,798) {};
\node[dot=pur] (so5) at (621,816) {};
\node[dot=pur] (so6) at (595,825) {};
\node[dot=dred] (so7) at (713,785) {};
\node[dot=dred] (so8) at (672,811) {};
\node[hub={pur}{20}, label={[lb]0:{Sole, R}}] (sole) at (582,735) {};
\begin{pgfonlayer}{background}
\draw[lite=2] (pastor) -- (sole) (ps3) -- (sole) (sole) -- (so1) (sole) -- (so4);
\draw[lite] (pastor) -- (ps1) (pastor) -- (ps2) (pastor) -- (ps3) (ps1) -- (ps3) (ps2) -- (ps3)
  (ps2) -- (sole) (pastor) -- (ps4) (ps4) -- (cd4) (sole) -- (so2) (sole) -- (so5) (sole) -- (so6)
  (so3) -- (so7) (so4) -- (so8) (so7) -- (so8) (so3) -- (so4);
\draw[medg=0.8] (sole) -- (so3);
\end{pgfonlayer}

%orange and purple at the bottom
\node[nd={ored}{12}] (or1) at (649,847) {};
\node[nd={ored}{12}] (or2) at (610,873) {};
\node[dot=ored] (or3) at (689,865) {};
\node[dot=ored] (or4) at (662,891) {};
\node[dot=ored] (or5) at (557,882) {};
\node[dot=pur] (pp1) at (712,812) {};
\node[sqr=pur] (pp2) at (712,847) {};
\node[dot=pur] (pp3) at (726,892) {};
\begin{pgfonlayer}{background}
\draw[lite=2] (or1) -- (or2);
\draw[lite] (or1) -- (or3) (or1) -- (or4) (or2) -- (or3) (or2) -- (or5) (or3) -- (or4)
  (pp1) -- (pp2) (pp2) -- (pp3);
\end{pgfonlayer}

%monge, contractor
\node[nd={dgr}{14}] (mg1) at (588,562) {};
\node[sqr=dgr] (mg2) at (550,536) {};
\node[dot=dgr] (mg3) at (602,500) {};
\node[dot=dgr] (mg4) at (655,509) {};
\node[sqr=dgr] (mg5) at (681,518) {};
\node[sqr=dgr] (mg6) at (733,527) {};
\node[sqr=dgr] (mg7) at (746,553) {};
\node[dot=dgr] (mg8) at (575,518) {};
\node[hub={dgr}{10}] (ct1) at (550,625) {};
\node[nd={mgry}{9}] (ct2) at (575,633) {};
\node[dot=dgr] (ct3) at (550,580) {};
\node[dot=dgr] (ct4) at (561,598) {};
\node[dot=dgr] (ct5) at (680,597) {};
\node[dot=mgry] (ct6) at (614,606) {};
\node[hub={dgr}{5}, label={[lb]0:{Falk, J}}] (falk) at (672,554) {};
\node[hub={dgr}{24}, label={[lb]0:{Monge, P}}] (monge) at (628,544) {};
\node[hub={dgr}{26}, label={[lb]0:{Contractor, N}}] (contractor) at (627,598) {};
\begin{pgfonlayer}{background}
\draw[brtg=2] (monge) -- (mg2) (mg2) -- (mg1) (mg6) -- (falk);
\draw[brtg=3] (monge) -- (mg1);
\draw[brtg] (mg2) -- (mg8) (mg8) -- (monge) (mg8) -- (mg1) (mg6) -- (mg7);
\draw[brtg=1.5] (mg7) -- (falk);
\draw[drkg=1] (monge) -- (mg3);
\draw[medg=2] (monge) -- (mg5) (contractor) -- (ct1);
\draw[medg] (monge) -- (mg4) (mg4) -- (mg5) (mg4) -- (falk) (mg1) -- (contractor) (ct1) -- (ct2)
  (contractor) -- (ct2) (ct3) -- (contractor) (ct4) -- (contractor) (ct3) -- (ct1) (ct4) -- (ct2)
  (ct1) -- (ct4) (contractor) -- (ct5) (ct2) -- (ct6);
\draw[brtg=4] (monge) -- (contractor);
\end{pgfonlayer}

%wasserman, pattison
\node[hub={dgr}{12}] (ws1) at (707,625) {};
\node[dot=dgr] (ws2) at (733,634) {};
\node[nd={dgr}{10}] (ws3) at (748,612) {};
\node[dot=dgr] (ws4) at (629,663) {};
\node[nd={dgr}{12}] (ws5) at (681,682) {};
\node[dot=dgr] (ws6) at (678,726) {};
\node[hub={dgr}{22}, label={[lb]0:{Wasserman, S}}] (wasserman) at (667,651) {};
\node[nd={dgr}{18}, label={[lb]0:{Pattison, P}}] (pattison) at (640,692) {};
\begin{pgfonlayer}{background}
\draw[medg] (contractor) -- (wasserman) (wasserman) -- (ws5);
\draw[brtg=2] (wasserman) -- (ws1);
\draw[drkg=1] (wasserman) -- (ws2);
\draw[lite] (ws1) -- (ws3) (pattison) -- (ws6) (ws5) -- (ws6);
\draw[medg=2] (ws4) -- (wasserman);
\draw[medg=3] (wasserman) -- (pattison);
\draw[medg=4] (pattison) -- (ws5);
\end{pgfonlayer}

%govindan, willinger
\node[nd={lgry}{14}] (gv1) at (782,490) {};
\node[nd={lgry}{14}] (gv2) at (797,520) {};
\node[dot=lgry] (gv3) at (820,499) {};
\node[dot=lgry] (gv4) at (872,498) {};
\node[nd={lgry}{14}] (gv5) at (820,569) {};
\node[dot=lgry] (gv6) at (860,560) {};
\node[nd={lgry}{14}] (gv7) at (886,578) {};
\node[dot=lgry] (gv8) at (910,572) {};
\node[dot=mgry] (gz1) at (788,556) {};
\node[sqr=dgr] (gz2) at (752,584) {};
\node[nd={lgry}{18}, label={[lb]0:{Govindan, R}}] (govindan) at (833,533) {};
\node[nd={lgry}{14}, label={[lb]0:{Willinger, W}}] (willinger) at (833,587) {};
\begin{pgfonlayer}{background}
\draw[medg=1.5] (gv1) -- (gv2);
\draw[lite] (gv3) -- (gv4) (gv3) -- (govindan) (gv6) -- (gv5) (gv6) -- (gv7) (gv5) -- (willinger)
  (gv7) -- (gv8) (govindan) -- (gv4);
\draw[lite=3] (govindan) -- (gv5) (govindan) -- (willinger) (gv5) -- (gv7);
\draw[lite=2] (govindan) -- (gv7);
\draw[brtg=1] (gz1) -- (gz2);
\end{pgfonlayer}

%kahng, redner
\node[dot=pur] (kg1) at (1067,431) {};
\node[nd={pur}{12}] (kg2) at (1029,467) {};
\node[dot=pur] (kg3) at (1172,511) {};
\node[sqr=pur] (kg4) at (963,529) {};
\node[dot=pur] (kg5) at (1002,538) {};
\node[nd={pur}{11}] (kg6) at (937,547) {};
\node[nd={pur}{12}] (kd1) at (845,457) {};
\node[dot=pur] (kd2) at (872,457) {};
\node[dot=pur] (kd3) at (858,475) {};
\node[nd={pur}{16}, label={[lb]0:{Kim, D}}] (kimd) at (872,440) {};
\node[hub={pur}{20}, label={[lb]0:{Kahng, B}}] (kahng) at (924,476) {};
\node[nd={pur}{20}, label={[lb]0:{Redner, S}}] (redner) at (1055,449) {};
\node[nd={pur}{14}, label={[lb]0:{Kim, J}}] (kimj) at (1016,520) {};
\node[hub={pur}{18}, label={[lb]0:{Krapivsky, P}}] (krapivsky) at (1081,511) {};
\begin{pgfonlayer}{background}
\draw[lite=4] (kimd) -- (kahng);
\draw[lite=3] (jeong) -- (kimd);
\draw[lite=2] (jeong) -- (kahng) (kahng) -- (redner) (kahng) -- (kimj) (kahng) -- (krapivsky)
  (kahng) -- (kg6) (kg6) -- (kg5);
\draw[lite] (jeong) -- (kd1) (jeong) -- (kd2) (kd1) -- (kd3) (kahng) -- (kg1) (redner) -- (kimj)
  (kimj) -- (krapivsky) (kahng) -- (kg4) (kahng) -- (kg5) (kg6) -- (kg4) (kg2) -- (redner) (kg4) -- (kg5);
\draw[lite=5] (redner) -- (krapivsky);
\draw[medg] (krapivsky) -- (kg3);
\end{pgfonlayer}

%mendes, dorogovtsev
\node[nd={white}{9}] (mn1) at (1070,410) {};
\node[nd={white}{16}, label={[lb]0:{Samukhin, A}}] (samukhin) at (1122,342) {};
\node[nd={white}{26}, label={[lb]0:{Mendes, J}}] (mendes) at (1087,376) {};
\node[nd={white}{26}, label={[lb]0:{Dorogovtsev, S}}] (dorogovtsev) at (1152,424) {};
\begin{pgfonlayer}{background}
\draw[lite=4] (samukhin) -- (mendes) (samukhin) -- (dorogovtsev);
\draw[lite=8] (mendes) -- (dorogovtsev);
\draw[lite] (mendes) -- (mn1);
\draw[lite=2] (mn1) -- (dorogovtsev);
\end{pgfonlayer}

%simon and pink square
\node[dot=ylg] (si1) at (1259,344) {};
\node[dot=ylg] (si2) at (1297,359) {};
\node[nd={ylg}{11}] (si3) at (1286,443) {};
\node[nd={ylg}{26}, label={[lb]0:{Simon, H}}] (simon) at (1238,386) {};
\node[dot=ppink] (pk1) at (1198,463) {};
\node[dot=ppink] (pk2) at (1226,454) {};
\node[dot=ppink] (pk3) at (1199,482) {};
\node[dot=ppink] (pk4) at (1226,482) {};
\begin{pgfonlayer}{background}
\draw[brtg] (si1) -- (simon) (si1) -- (si2) (simon) -- (si2);
\draw[dgry=3] (simon) -- (si3);
\draw[brtg] (pk1) -- (pk2) (pk1) -- (pk3) (pk1) -- (pk4) (pk2) -- (pk3) (pk2) -- (pk4) (pk3) -- (pk4);
\end{pgfonlayer}

%sen, manna
\node[dot=lgry] (sn1) at (1213,502) {};
\node[dot=lgry] (sn2) at (1287,511) {};
\node[dot=lgry] (sn3) at (1247,537) {};
\node[dot=lgry] (sn4) at (1265,549) {};
\node[dot=lgry] (sn5) at (1287,555) {};
\node[nd={sgry}{18}, label={[lb]0:{Sen, P}}] (sen) at (1244,517) {};
\node[nd={sgry}{18}, label={[lb]0:{Manna, S}}] (manna) at (1237,566) {};
\begin{pgfonlayer}{background}
\draw[lite=2] (sn1) -- (sen) (sn3) -- (manna);
\draw[lite] (sen) -- (sn2) (sen) -- (sn3) (sen) -- (sn4) (sen) -- (sn5) (sen) -- (manna) (sn4) -- (manna)
  (sn5) -- (manna) (sn4) -- (sn5) (sn3) -- (sn4);
\end{pgfonlayer}

%stauffer, kertesz
\node[nd={white}{10}] (wo1) at (985,573) {};
\node[nd={white}{12}] (wo2) at (1027,586) {};
\node[dot=white] (wo3) at (1061,580) {};
\node[nd={white}{10}] (wo4) at (1101,565) {};
\node[dot=white] (wo5) at (1119,580) {};
\node[nd={white}{10}] (wo6) at (1061,619) {};
\node[dot=white] (wo7) at (1086,634) {};
\node[dot=white] (wo8) at (976,596) {};
\node[dot=white] (wo9) at (1151,577) {};
\node[dot=white] (wo10) at (1184,567) {};
\node[nd={white}{10}] (wo11) at (1211,569) {};
\node[nd={white}{12}] (wo12) at (1261,613) {};
\node[dot=white] (wo13) at (1222,620) {};
\node[dot=white] (wo14) at (1297,612) {};
\node[hub={white}{14}, label={[lb]0:{Stauffer, D}}] (stauffer) at (1092,600) {};
\node[hub={white}{12}, label={[lb]0:{Kertesz, J}}] (kertesz) at (1180,590) {};
\begin{pgfonlayer}{background}
\draw[lite=2] (wo1) -- (wo2) (wo9) -- (kertesz) (wo13) -- (wo12);
\draw[lite] (wo2) -- (wo3) (wo3) -- (stauffer) (wo4) -- (stauffer) (wo4) -- (wo5) (wo1) -- (wo8)
  (stauffer) -- (wo7) (wo6) -- (wo7) (wo5) -- (kertesz) (wo10) -- (wo11) (kertesz) -- (wo11)
  (kertesz) -- (wo13) (wo12) -- (wo14);
\draw[medg=1.5] (stauffer) -- (wo6);
\end{pgfonlayer}

%lai, motter
\node[nd={orng}{14}] (la1) at (1131,642) {};
\node[dot=orng] (la2) at (1158,631) {};
\node[nd={orng}{14}] (la3) at (1197,651) {};
\node[nd={orng}{14}] (la4) at (1131,696) {};
\node[dot=orng] (la5) at (1197,696) {};
\node[dot=orng] (la6) at (1262,629) {};
\node[dot=orng] (la7) at (1287,659) {};
\node[dot=orng] (la8) at (1275,713) {};
\node[dot=orng] (la9) at (1091,660) {};
\node[hub={orng}{12}] (la10) at (1078,696) {};
\node[dot=orng] (la11) at (1026,686) {};
\node[hub={orng}{14}] (la12) at (1026,732) {};
\node[dot=orng] (la13) at (1026,758) {};
\node[dot=orng] (la14) at (959,705) {};
\node[nd={orng}{10}] (la15) at (959,732) {};
\node[nd={orng}{14}] (la16) at (986,758) {};
\node[dot=orng] (la17) at (921,767) {};
\node[hub={orng}{20}, label={[lb]0:{Lai, Y}}] (lai) at (1144,669) {};
\node[nd={orng}{20}, label={[lb]0:{Motter, A}}] (motter) at (1222,678) {};
\begin{pgfonlayer}{background}
\draw[lite=2] (lai) -- (la1) (lai) -- (la10) (la12) -- (la14) (la14) -- (la16);
\draw[lite=3] (lai) -- (la3) (la3) -- (motter) (la12) -- (la16);
\draw[lite=4] (lai) -- (motter);
\draw[lite] (lai) -- (la2) (lai) -- (la4) (la3) -- (la5) (motter) -- (la5) (motter) -- (la6) (motter) -- (la8)
  (la6) -- (la7) (la10) -- (la4) (la10) -- (la9) (la10) -- (la11) (la10) -- (la12) (la11) -- (la12)
  (la12) -- (la13) (la14) -- (la15) (la15) -- (la17) (la15) -- (la12);
\end{pgfonlayer}

%leydesdorff
\node[hub={aqua}{12}] (ld1) at (1135,757) {};
\node[nd={aqua}{14}] (ld2) at (1096,774) {};
\node[nd={aqua}{12}] (ld3) at (1096,747) {};
\node[sqr=aqua] (ld4) at (1109,747) {};
\node[nd={aqua}{12}] (ld5) at (1096,712) {};
\node[hub={aqua}{12}] (ld6) at (1109,801) {};
\node[hub={aqua}{12}] (ld7) at (1175,811) {};
\node[sqr=aqua] (ld8) at (1004,766) {};
\node[dot=aqua] (ld9) at (1044,766) {};
\node[dot=aqua] (ld10) at (952,783) {};
\node[nd={aqua}{12}] (ld11) at (952,819) {};
\node[nd={aqua}{12}] (ld12) at (952,837) {};
\node[sqr=aqua] (ld13) at (978,846) {};
\node[dot=aqua] (ld14) at (1030,855) {};
\node[nd={aqua}{12}] (ld15) at (1070,846) {};
\node[dot=aqua] (ld16) at (1162,739) {};
\node[dot=aqua] (ld17) at (1280,739) {};
\node[sqr=aqua] (ld18) at (1202,766) {};
\node[nd={aqua}{12}] (ld19) at (1240,775) {};
\node[sqr=aqua] (ld20) at (1227,801) {};
\node[dot=aqua] (ld21) at (1292,801) {};
\node[dot=aqua] (ld22) at (1214,837) {};
\node[nd={aqua}{18}, label={[lb]0:{Etzkowitz, H}}] (etzkowitz) at (1122,775) {};
\node[nd={aqua}{18}, label={[lb]0:{Wouters, P}}] (wouters) at (1201,864) {};
\node[hub={aqua}{58}, label={[lb]0:{Leydesdorff, L}}] (leydesdorff) at (1044,810) {};
\begin{pgfonlayer}{background}
\draw[lite=2] (leydesdorff) -- (ld11) (leydesdorff) -- (ld13) (leydesdorff) -- (ld1) (ld18) -- (ld19)
  (ld18) -- (ld20);
\draw[brtg=5] (leydesdorff) -- (ld12);
\draw[brtg=1] (leydesdorff) -- (ld10) (leydesdorff) -- (ld14);
\draw[medg] (leydesdorff) -- (ld8) (leydesdorff) -- (ld5);
\draw[dgry=1.5] (leydesdorff) -- (ld15);
\draw[lite] (leydesdorff) -- (ld9) (leydesdorff) -- (ld3) (leydesdorff) -- (ld4) (leydesdorff) -- (ld2)
  (leydesdorff) -- (ld6) (ld6) -- (ld7) (ld7) -- (ld16) (ld7) -- (ld18) (ld7) -- (ld19) (ld7) -- (ld20)
  (ld7) -- (ld22) (ld19) -- (ld20) (ld19) -- (ld17) (ld20) -- (ld21) (ld5) -- (ld4) (ld5) -- (ld3);
\draw[medg=4] (leydesdorff) -- (etzkowitz);
\draw[medg=2] (leydesdorff) -- (wouters);
\end{pgfonlayer}

%cyan row
\node[dot=sky] (cy1) at (936,883) {};
\node[sqr=sky] (cy2) at (1001,875) {};
\node[nd={sky}{16}] (cy3) at (1053,883) {};
\node[nd={sky}{14}] (cy4) at (1118,875) {};
\begin{pgfonlayer}{background}
\draw[lite] (cy1) -- (cy2);
\draw[medg=2] (cy2) -- (cy3) (cy3) -- (cy4);
\end{pgfonlayer}

%may, nowak
\node[dot=mgry] (my1) at (778,651) {};
\node[sqr=mgry] (my2) at (769,682) {};
\node[dot=mgry] (my3) at (739,693) {};
\node[dot=mgry] (my4) at (725,722) {};
\node[sqr=mgry] (my5) at (765,749) {};
\node[dot=mgry] (my6) at (830,668) {};
\node[dot=mgry] (my7) at (830,722) {};
\node[dot=mgry] (my8) at (790,740) {};
\node[nd={mgry}{13}] (my9) at (830,793) {};
\node[dot=mgry] (my10) at (790,821) {};
\coordinate (my11) at (878,776);
\node[hub={mgry}{32}, label={[lb]0:{May, R}}] (may) at (787,715) {};
\node[hub={mgry}{20}, label={[lb]0:{Nowak, M}}] (nowak) at (870,696) {};
\node[hub={mgry}{20}, label={[lb]0:{erson, R}}] (anderson) at (843,741) {};
\begin{pgfonlayer}{background}
\draw[medg=8] (may) -- (nowak);
\draw[medg=2] (may) -- (my6) (anderson) -- (my9);
\draw[medg] (my6) -- (nowak) (may) -- (my1) (may) -- (my2) (anderson) -- (my8) (anderson) -- (my7) (my2) -- (my3);
\draw[brtg] (may) -- (my3) (my5) -- (anderson);
\draw[brtg=2] (may) -- (my4) (may) -- (my5) (anderson) -- (my11);
\draw[brtg=4] (may) -- (anderson);
\draw[lite] (my9) -- (my10) (my3) -- (my4);
\end{pgfonlayer}

%grey group right of nowak, bottom greys
\node[nd={mgry}{12}] (nk1) at (936,614) {};
\node[sqr=mgry] (nk2) at (896,651) {};
\node[nd={mgry}{14}] (nk3) at (936,668) {};
\node[sqr=mgry] (nk4) at (987,651) {};
\node[sqr=mgry] (nk5) at (1001,686) {};
\node[sqr=mgry] (nk6) at (922,722) {};
\node[nd={mgry}{14}] (bm1) at (769,854) {};
\node[dot=mgry] (bm2) at (746,856) {};
\node[dot=mgry] (bm3) at (796,838) {};
\node[dot=mgry] (bm4) at (804,857) {};
\node[sqr=dgr] (bm5) at (843,865) {};
\node[sqr=dgr] (bm6) at (805,883) {};
\node[dot=dgr] (bm7) at (857,821) {};
\begin{pgfonlayer}{background}
\draw[lite] (nk1) -- (nk3) (nowak) -- (nk3) (nk2) -- (nk1);
\draw[lite=2] (nk2) -- (nk3);
\draw[brtg=2] (nk3) -- (nk4) (nk3) -- (nk5);
\draw[brtg] (nk4) -- (nk5) (nowak) -- (nk6);
\draw[lite] (bm2) -- (bm1) (bm1) -- (bm3) (bm3) -- (bm4) (bm1) -- (bm4) (bm7) -- (bm5) (bm5) -- (bm6);
\end{pgfonlayer}

\end{tikzpicture}
\end{document}
